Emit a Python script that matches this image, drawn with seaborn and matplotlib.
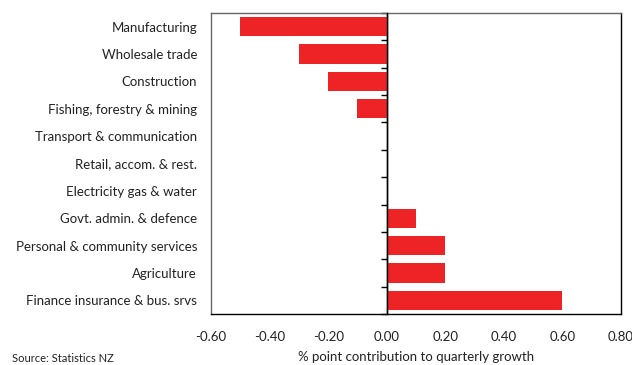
import matplotlib
matplotlib.use("Agg")
import matplotlib.pyplot as plt
import seaborn as sns
import pandas as pd
import numpy as np

categories = [
    "Manufacturing",
    "Wholesale trade",
    "Construction",
    "Fishing, forestry & mining",
    "Transport & communication",
    "Retail, accom. & rest.",
    "Electricity gas & water",
    "Govt. admin. & defence",
    "Personal & community services",
    "Agriculture",
    "Finance insurance & bus. srvs",
]
values = [-0.50, -0.30, -0.20, -0.10, 0.0, 0.0, 0.0, 0.10, 0.20, 0.20, 0.60]
xticks = [-0.6, -0.4, -0.2, 0.0, 0.2, 0.4, 0.6, 0.8]

sns.set_theme(style="white")
plt.rcParams["font.family"] = ["Lato", "DejaVu Sans"]

df = pd.DataFrame({"category": categories, "value": values})

fig = plt.figure(figsize=(6.32, 3.65), dpi=100)
ax = fig.add_axes([211 / 632, 1 - 314 / 365, 410 / 632, 301 / 365])

sns.barplot(data=df, y="category", x="value", orient="h", color="#EE2326",
            saturation=1, width=0.7, linewidth=0, ax=ax, order=categories)

ax.set_xlim(-0.6, 0.8)
ax.set_ylim(len(categories) - 0.5, -0.5)
ax.set_xticks(xticks)
ax.set_xticklabels([f"{t:.2f}" for t in xticks], fontsize=9.5, color="#222222")
ax.tick_params(axis="x", direction="in", length=4, width=1, color="black", pad=12)
ax.tick_params(axis="y", length=0, pad=10, labelsize=9.5, labelcolor="#222222")
ax.set_ylabel("")
ax.set_xlabel("% point contribution to quarterly growth", fontsize=9.5,
              color="#222222", labelpad=6)

for s in ["left", "top"]:
    ax.spines[s].set_color("#666666")
    ax.spines[s].set_linewidth(1)
for s in ["right", "bottom"]:
    ax.spines[s].set_color("black")
    ax.spines[s].set_linewidth(1)

# zero axis with boundary ticks
ax.axvline(0, color="black", linewidth=1, zorder=5)
zero_pos = (0 - (-0.6)) / (0.8 - (-0.6))
sec = ax.secondary_yaxis(zero_pos)
sec.set_yticks(np.arange(-0.5, len(categories) - 0.5 + 0.01, 1.0))
sec.set_yticklabels([])
sec.tick_params(axis="y", direction="out", length=4, width=1, color="black")
sec.spines["left"].set_color("black")
sec.spines["left"].set_linewidth(1)

fig.text(12 / 632, 1 - 359 / 365, "Source: Statistics NZ", fontsize=8,
         color="#222222", va="center", ha="left")

fig.savefig("out.png", dpi=100)
